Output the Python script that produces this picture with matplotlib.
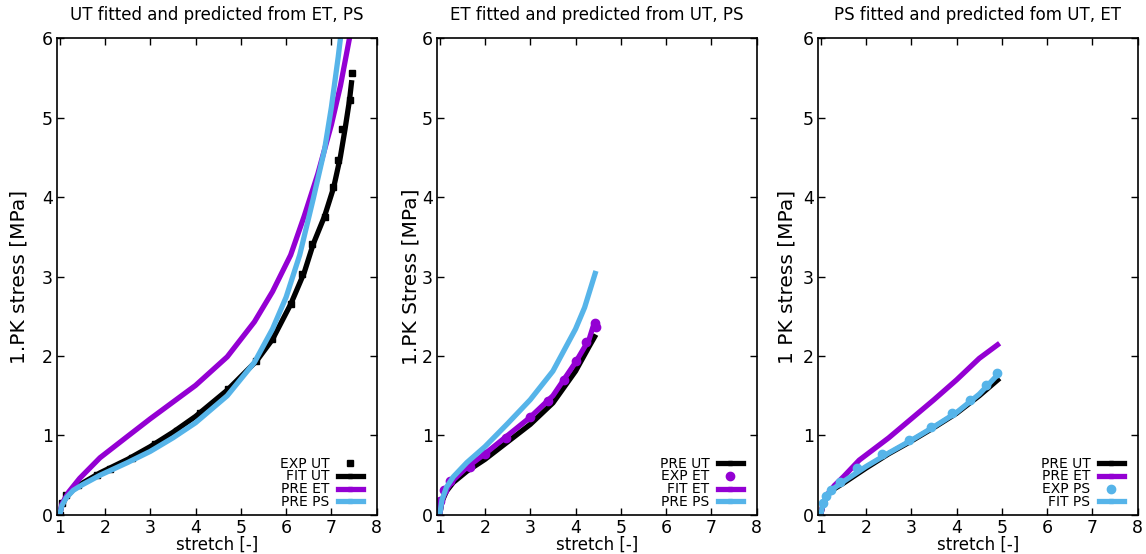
import matplotlib
matplotlib.use("Agg")
import matplotlib.pyplot as plt
from matplotlib.lines import Line2D

BLACK = "#000000"
PURPLE = "#9400D3"
BLUE = "#56B4E9"

# ---- UT panel ----
ut_exp_x = [1.0, 1.05, 1.15, 1.4, 1.83, 2.12, 2.6, 3.1, 3.6, 4.1, 4.72, 5.33, 5.69, 6.1, 6.36, 6.58, 6.85, 7.04, 7.15, 7.24, 7.41, 7.46]
ut_exp_y = [0.0, 0.15, 0.25, 0.38, 0.50, 0.58, 0.72, 0.89, 1.06, 1.28, 1.59, 1.94, 2.21, 2.65, 3.03, 3.41, 3.75, 4.12, 4.47, 4.85, 5.22, 5.56]
ut_fit_x = [1.0, 1.05, 1.15, 1.3, 1.5, 1.89, 2.5, 3.0, 3.5, 4.0, 4.7, 5.35, 5.7, 6.1, 6.4, 6.6, 6.85, 7.05, 7.2, 7.3, 7.4, 7.45]
ut_fit_y = [0.0, 0.13, 0.23, 0.32, 0.40, 0.53, 0.70, 0.86, 1.04, 1.24, 1.57, 1.94, 2.21, 2.65, 3.05, 3.41, 3.76, 4.12, 4.51, 4.85, 5.22, 5.47]
ut_pre_et_x = [1.0, 1.05, 1.2, 1.44, 1.89, 2.5, 3.0, 3.5, 4.0, 4.7, 5.3, 5.7, 6.1, 6.4, 6.7, 7.0, 7.2, 7.4, 7.5]
ut_pre_et_y = [0.0, 0.14, 0.29, 0.46, 0.72, 0.99, 1.21, 1.42, 1.63, 1.99, 2.43, 2.81, 3.27, 3.76, 4.29, 4.91, 5.40, 6.0, 6.3]
ut_pre_ps_x = [1.0, 1.05, 1.15, 1.3, 1.5, 1.89, 2.5, 3.0, 3.5, 4.0, 4.7, 5.3, 5.7, 6.0, 6.3, 6.6, 6.85, 7.0, 7.15, 7.2, 7.3]
ut_pre_ps_y = [0.0, 0.12, 0.22, 0.31, 0.38, 0.50, 0.66, 0.80, 0.97, 1.16, 1.50, 1.92, 2.34, 2.74, 3.27, 3.98, 4.60, 5.13, 5.76, 6.0, 6.4]

# ---- ET panel ----
et_pre_ut_x = [1.0, 1.05, 1.15, 1.3, 1.6, 2.0, 2.5, 3.0, 3.5, 4.0, 4.3, 4.45]
et_pre_ut_y = [0.0, 0.17, 0.30, 0.41, 0.55, 0.70, 0.92, 1.14, 1.41, 1.81, 2.12, 2.27]
et_exp_x = [0.94, 0.91, 1.0, 1.1, 1.22, 1.68, 1.99, 2.46, 3.0, 3.39, 3.74, 4.02, 4.24, 4.43, 4.46]
et_exp_y = [0.0, 0.08, 0.17, 0.32, 0.43, 0.61, 0.77, 0.97, 1.23, 1.43, 1.70, 1.94, 2.17, 2.42, 2.36]
et_fit_x = [1.0, 1.05, 1.15, 1.3, 1.6, 2.0, 2.5, 3.0, 3.5, 4.0, 4.3, 4.42]
et_fit_y = [0.0, 0.18, 0.32, 0.44, 0.60, 0.77, 1.00, 1.23, 1.50, 1.92, 2.21, 2.43]
et_pre_ps_x = [1.0, 1.05, 1.15, 1.3, 1.6, 2.0, 2.5, 3.0, 3.5, 4.0, 4.2, 4.45]
et_pre_ps_y = [0.0, 0.19, 0.35, 0.48, 0.66, 0.86, 1.15, 1.45, 1.81, 2.34, 2.61, 3.07]

# ---- PS panel ----
ps_pre_ut_x = [1.0, 1.05, 1.15, 1.3, 1.5, 2.0, 2.5, 3.0, 3.5, 4.0, 4.5, 4.95]
ps_pre_ut_y = [0.0, 0.13, 0.25, 0.33, 0.40, 0.59, 0.77, 0.93, 1.10, 1.28, 1.50, 1.72]
ps_pre_et_x = [1.0, 1.05, 1.15, 1.3, 1.5, 1.85, 2.5, 3.0, 3.5, 4.0, 4.5, 4.95]
ps_pre_et_y = [0.0, 0.13, 0.26, 0.37, 0.48, 0.69, 0.97, 1.21, 1.45, 1.70, 1.97, 2.16]
ps_exp_x = [0.94, 1.04, 1.12, 1.23, 1.43, 1.8, 2.35, 2.94, 3.43, 3.9, 4.3, 4.65, 4.89]
ps_exp_y = [0.0, 0.15, 0.24, 0.32, 0.41, 0.59, 0.77, 0.94, 1.11, 1.28, 1.45, 1.63, 1.79]
ps_fit_x = [1.0, 1.05, 1.15, 1.3, 1.5, 2.0, 2.5, 3.0, 3.5, 4.0, 4.5, 4.95]
ps_fit_y = [0.0, 0.14, 0.25, 0.34, 0.42, 0.61, 0.78, 0.94, 1.11, 1.29, 1.52, 1.79]

titles = ["UT fitted and predicted from ET, PS",
          "ET fitted and predicted from UT, PS",
          "PS fitted and predicted fom UT, ET"]
ylabels = ["1.PK stress [MPa]", "1.PK Stress [MPa]", "1 PK stress [MPa]"]
ylabel_pads = [9.5, 0.5, 4.5]

fig = plt.figure(figsize=(11.46, 5.54), dpi=100)
lefts = [0.0497, 0.3813, 0.7138]
axes = [fig.add_axes([l, 0.0704, 0.279, 0.861]) for l in lefts]

LW = 3.8


def line(ax, x, y, c, label):
    ax.plot(x, y, color=c, lw=LW, solid_joinstyle="round", solid_capstyle="butt")
    return Line2D([], [], color=c, lw=LW, marker="s", ms=3, label=label)


def pts(ax, x, y, c, marker, ms, label):
    ax.plot(x, y, ls="none", color=c, marker=marker, ms=ms)
    return Line2D([], [], ls="none", color=c, marker=marker, ms=ms, label=label)


handles = []
ax = axes[0]
handles.append([
    pts(ax, ut_exp_x, ut_exp_y, BLACK, "s", 4, "EXP UT"),
    line(ax, ut_fit_x, ut_fit_y, BLACK, "FIT UT"),
    line(ax, ut_pre_et_x, ut_pre_et_y, PURPLE, "PRE ET"),
    line(ax, ut_pre_ps_x, ut_pre_ps_y, BLUE, "PRE PS"),
])

ax = axes[1]
h1 = line(ax, et_pre_ut_x, et_pre_ut_y, BLACK, "PRE UT")
h3 = line(ax, et_fit_x, et_fit_y, PURPLE, "FIT ET")
h2 = pts(ax, et_exp_x, et_exp_y, PURPLE, "o", 6, "EXP ET")
h4 = line(ax, et_pre_ps_x, et_pre_ps_y, BLUE, "PRE PS")
handles.append([h1, h2, h3, h4])

ax = axes[2]
h1 = line(ax, ps_pre_ut_x, ps_pre_ut_y, BLACK, "PRE UT")
h2 = line(ax, ps_pre_et_x, ps_pre_et_y, PURPLE, "PRE ET")
h3 = pts(ax, ps_exp_x, ps_exp_y, BLUE, "o", 6, "EXP PS")
h4 = line(ax, ps_fit_x, ps_fit_y, BLUE, "FIT PS")
handles.append([h1, h2, h3, h4])

for ax, t, yl, lp, hs in zip(axes, titles, ylabels, ylabel_pads, handles):
    ax.set_xlim(0.94, 8)
    ax.set_ylim(0, 6)
    ax.set_xticks(range(1, 9))
    ax.set_yticks(range(0, 7))
    ax.tick_params(direction="in", top=True, right=True, length=5, width=1,
                   labelsize=12.5, pad=3)
    ax.set_title(t, fontsize=12, pad=13)
    ax.set_xlabel("stretch [-]", fontsize=12, labelpad=-1)
    ax.set_ylabel(yl, fontsize=14.5, labelpad=lp)
    for s in ax.spines.values():
        s.set_linewidth(1.2)
    ax.legend(handles=hs, loc="lower right", bbox_to_anchor=(0.956, 0.012),
              frameon=False, markerfirst=False, fontsize=10, handlelength=1.8,
              handletextpad=0.6, labelspacing=-0.08, borderaxespad=0, borderpad=0)

fig.savefig("out.png", dpi=100)
